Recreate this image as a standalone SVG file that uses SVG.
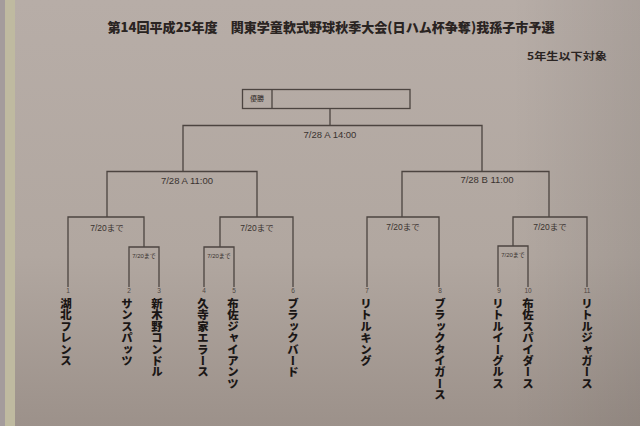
<svg xmlns="http://www.w3.org/2000/svg" width="640" height="426" viewBox="0 0 640 426">
<defs>
<linearGradient id="paper" x1="0" y1="0" x2="0" y2="1">
<stop offset="0" stop-color="#b7ada7"/>
<stop offset="0.6" stop-color="#b1a7a0"/>
<stop offset="1" stop-color="#9c918a"/>
</linearGradient>
<linearGradient id="vig" x1="0" y1="0" x2="1" y2="0">
<stop offset="0" stop-color="#000" stop-opacity="0"/>
<stop offset="0.8" stop-color="#000" stop-opacity="0"/>
<stop offset="1" stop-color="#000" stop-opacity="0.08"/>
</linearGradient>
</defs>
<style>
.ln{stroke:#4c4440;stroke-width:1.3;fill:none}
.jp{font-family:"Noto Sans CJK JP","Noto Sans",sans-serif;fill:#2a2422}
.lbl{font-family:"Liberation Sans","Noto Sans CJK JP",sans-serif;fill:#3a3330;text-anchor:middle}
.num{font-family:"Liberation Sans",sans-serif;font-size:6.5px;fill:#4e4642;text-anchor:middle}
.team{font-family:"Noto Sans CJK JP",sans-serif;font-size:11.4px;font-weight:900;fill:#1a1615;writing-mode:vertical-rl}
</style>
<rect width="640" height="426" fill="url(#paper)"/>
<rect width="640" height="426" fill="url(#vig)"/>
<rect x="0" y="0" width="5" height="426" fill="#a49c9c"/>
<rect x="5" y="0" width="10" height="426" fill="#bfbaa0"/>
<g id="title">
<text class="jp" x="331" y="32" font-size="13" font-weight="900" text-anchor="middle" textLength="447" lengthAdjust="spacingAndGlyphs">第14回平成25年度　関東学童軟式野球秋季大会(日ハム杯争奪)我孫子市予選</text>
</g>
<g id="subtitle">
<text class="jp" x="567" y="60" font-size="10" font-weight="700" text-anchor="middle" textLength="80" lengthAdjust="spacingAndGlyphs">5年生以下対象</text>
</g>
<g id="champion">
<rect class="ln" x="242.5" y="89.5" width="167.5" height="19"/>
<line class="ln" x1="272" y1="89.5" x2="272" y2="108.5"/>
<text class="jp" x="257" y="101" font-size="7" text-anchor="middle">優勝</text>
</g>
<g id="connectors">
<path class="ln" d="M330 108.5V125.5M183 171.5V125.5H482V171.5"/>
<path class="ln" d="M107 217V171.5H257V217M402 217V171.5H549V217"/>
<path class="ln" d="M68 287V217H144V247M129 287V247H159V287"/>
<path class="ln" d="M220 247V217H293V287M204 287V247H234V287"/>
<path class="ln" d="M367 287V217H439V287"/>
<path class="ln" d="M513 246V217H587V287M498 287V246H528V287"/>
</g>
<g id="match-labels">
<text class="lbl" x="330" y="138" font-size="9.5">7/28 A 14:00</text>
<text class="lbl" x="187" y="184" font-size="9.5">7/28 A 11:00</text>
<text class="lbl" x="487" y="183" font-size="9.5">7/28 B 11:00</text>
<text class="lbl" x="107" y="231" font-size="8.5">7/20まで</text>
<text class="lbl" x="257" y="231" font-size="8.5">7/20まで</text>
<text class="lbl" x="403" y="230" font-size="8.5">7/20まで</text>
<text class="lbl" x="550" y="230" font-size="8.5">7/20まで</text>
<text class="lbl" x="144" y="258" font-size="6">7/20まで</text>
<text class="lbl" x="219" y="258" font-size="6">7/20まで</text>
<text class="lbl" x="513" y="257" font-size="6">7/20まで</text>
</g>
<g id="team1"><text class="num" x="68" y="293">1</text><text class="team" x="66" y="298">湖北フレンス</text></g>
<g id="team2"><text class="num" x="129" y="293">2</text><text class="team" x="127" y="298">サンスパッツ</text></g>
<g id="team3"><text class="num" x="159" y="293">3</text><text class="team" x="157" y="298">新木野コンドル</text></g>
<g id="team4"><text class="num" x="204" y="293">4</text><text class="team" x="203" y="298">久寺家エラース</text></g>
<g id="team5"><text class="num" x="234" y="293">5</text><text class="team" x="233" y="298">布佐ジャイアンツ</text></g>
<g id="team6"><text class="num" x="293" y="293">6</text><text class="team" x="293" y="298">ブラックバード</text></g>
<g id="team7"><text class="num" x="367" y="293">7</text><text class="team" x="366" y="298">リトルキング</text></g>
<g id="team8"><text class="num" x="440" y="293">8</text><text class="team" x="440" y="298">ブラックタイガース</text></g>
<g id="team9"><text class="num" x="499" y="293">9</text><text class="team" x="498" y="298">リトルイーグルス</text></g>
<g id="team10"><text class="num" x="528" y="293">10</text><text class="team" x="528" y="298">布佐スパイダース</text></g>
<g id="team11"><text class="num" x="587" y="293">11</text><text class="team" x="587" y="298">リトルジャガース</text></g>
</svg>
